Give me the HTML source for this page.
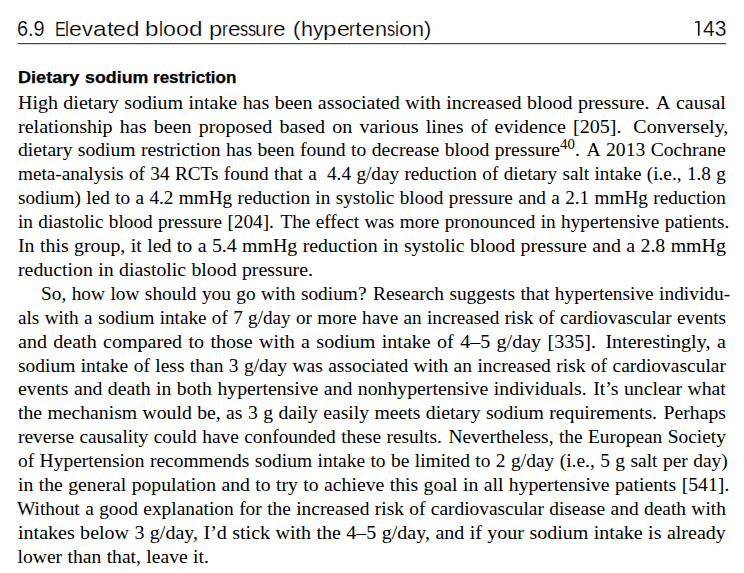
<!DOCTYPE html>
<html lang="en"><head><meta charset="utf-8"><style>
html,body{margin:0;padding:0;background:#fff;}
body{width:744px;height:573px;position:relative;overflow:hidden;font-family:"Liberation Serif",serif;color:#000;}
.l{position:absolute;transform-origin:0 0;height:24px;line-height:24px;white-space:nowrap;}
.l i{display:inline-block;}
.l sup{font-size:76%;line-height:0;vertical-align:baseline;position:relative;top:-0.45em;}
.hd{position:absolute;font-family:"Liberation Sans",sans-serif;white-space:nowrap;}
</style></head><body>

<div class="hd" style="left:17.15px;top:17.30px;font-size:21.5px;line-height:normal;font-weight:normal;transform-origin:0 0;transform:scaleX(0.9268);-webkit-text-stroke:0.2px #fff;">6.9</div>
<div><span class="hd" style="left:54.66px;top:18.30px;font-size:20.3px;line-height:normal;transform-origin:0 0;transform:scaleX(0.8000);-webkit-text-stroke:0.2px #fff;">E</span><span class="hd" style="left:65.38px;top:18.30px;font-size:20.3px;line-height:normal;transform-origin:0 0;transform:scaleX(0.8781);-webkit-text-stroke:0.2px #fff;">l</span><span class="hd" style="left:69.35px;top:18.30px;font-size:20.3px;line-height:normal;transform-origin:0 0;transform:scaleX(1.1423);-webkit-text-stroke:0.2px #fff;">e</span><span class="hd" style="left:82.23px;top:18.30px;font-size:20.3px;line-height:normal;transform-origin:0 0;transform:scaleX(1.0831);-webkit-text-stroke:0.2px #fff;">v</span><span class="hd" style="left:93.22px;top:18.30px;font-size:20.3px;line-height:normal;transform-origin:0 0;transform:scaleX(1.2003);-webkit-text-stroke:0.2px #fff;">a</span><span class="hd" style="left:106.76px;top:18.30px;font-size:20.3px;line-height:normal;transform-origin:0 0;transform:scaleX(1.1915);-webkit-text-stroke:0.2px #fff;">t</span><span class="hd" style="left:113.48px;top:18.30px;font-size:20.3px;line-height:normal;transform-origin:0 0;transform:scaleX(1.1423);-webkit-text-stroke:0.2px #fff;">e</span><span class="hd" style="left:126.36px;top:18.30px;font-size:20.3px;line-height:normal;transform-origin:0 0;transform:scaleX(1.2038);-webkit-text-stroke:0.2px #fff;">d</span></div>
<div><span class="hd" style="left:145.26px;top:18.30px;font-size:20.3px;line-height:normal;transform-origin:0 0;transform:scaleX(1.1931);-webkit-text-stroke:0.2px #fff;">b</span><span class="hd" style="left:158.71px;top:18.30px;font-size:20.3px;line-height:normal;transform-origin:0 0;transform:scaleX(0.8741);-webkit-text-stroke:0.2px #fff;">l</span><span class="hd" style="left:162.66px;top:18.30px;font-size:20.3px;line-height:normal;transform-origin:0 0;transform:scaleX(1.1458);-webkit-text-stroke:0.2px #fff;">o</span><span class="hd" style="left:175.59px;top:18.30px;font-size:20.3px;line-height:normal;transform-origin:0 0;transform:scaleX(1.1458);-webkit-text-stroke:0.2px #fff;">o</span><span class="hd" style="left:188.51px;top:18.30px;font-size:20.3px;line-height:normal;transform-origin:0 0;transform:scaleX(1.1983);-webkit-text-stroke:0.2px #fff;">d</span></div>
<div><span class="hd" style="left:208.78px;top:18.30px;font-size:20.3px;line-height:normal;transform-origin:0 0;transform:scaleX(1.1698);-webkit-text-stroke:0.2px #fff;">p</span><span class="hd" style="left:221.98px;top:18.30px;font-size:20.3px;line-height:normal;transform-origin:0 0;transform:scaleX(0.8609);-webkit-text-stroke:0.2px #fff;">r</span><span class="hd" style="left:227.80px;top:18.30px;font-size:20.3px;line-height:normal;transform-origin:0 0;transform:scaleX(1.1149);-webkit-text-stroke:0.2px #fff;">e</span><span class="hd" style="left:240.08px;top:18.30px;font-size:20.3px;line-height:normal;transform-origin:0 0;transform:scaleX(0.8000);-webkit-text-stroke:0.2px #fff;">s</span><span class="hd" style="left:247.59px;top:18.30px;font-size:20.3px;line-height:normal;transform-origin:0 0;transform:scaleX(0.8000);-webkit-text-stroke:0.2px #fff;">s</span><span class="hd" style="left:255.40px;top:18.30px;font-size:20.3px;line-height:normal;transform-origin:0 0;transform:scaleX(1.0429);-webkit-text-stroke:0.2px #fff;">u</span><span class="hd" style="left:267.16px;top:18.30px;font-size:20.3px;line-height:normal;transform-origin:0 0;transform:scaleX(0.8609);-webkit-text-stroke:0.2px #fff;">r</span><span class="hd" style="left:272.99px;top:18.30px;font-size:20.3px;line-height:normal;transform-origin:0 0;transform:scaleX(1.1149);-webkit-text-stroke:0.2px #fff;">e</span></div>
<div><span class="hd" style="left:293.23px;top:18.30px;font-size:20.3px;line-height:normal;transform-origin:0 0;transform:scaleX(1.0772);-webkit-text-stroke:0.2px #fff;">(</span><span class="hd" style="left:300.52px;top:18.30px;font-size:20.3px;line-height:normal;transform-origin:0 0;transform:scaleX(1.0680);-webkit-text-stroke:0.2px #fff;">h</span><span class="hd" style="left:312.57px;top:18.30px;font-size:20.3px;line-height:normal;transform-origin:0 0;transform:scaleX(1.0440);-webkit-text-stroke:0.2px #fff;">y</span><span class="hd" style="left:323.15px;top:18.30px;font-size:20.3px;line-height:normal;transform-origin:0 0;transform:scaleX(1.1940);-webkit-text-stroke:0.2px #fff;">p</span><span class="hd" style="left:336.62px;top:18.30px;font-size:20.3px;line-height:normal;transform-origin:0 0;transform:scaleX(1.1380);-webkit-text-stroke:0.2px #fff;">e</span><span class="hd" style="left:349.46px;top:18.30px;font-size:20.3px;line-height:normal;transform-origin:0 0;transform:scaleX(0.8787);-webkit-text-stroke:0.2px #fff;">r</span><span class="hd" style="left:355.41px;top:18.30px;font-size:20.3px;line-height:normal;transform-origin:0 0;transform:scaleX(1.1870);-webkit-text-stroke:0.2px #fff;">t</span><span class="hd" style="left:362.10px;top:18.30px;font-size:20.3px;line-height:normal;transform-origin:0 0;transform:scaleX(1.1380);-webkit-text-stroke:0.2px #fff;">e</span><span class="hd" style="left:374.94px;top:18.30px;font-size:20.3px;line-height:normal;transform-origin:0 0;transform:scaleX(1.0680);-webkit-text-stroke:0.2px #fff;">n</span><span class="hd" style="left:386.76px;top:18.30px;font-size:20.3px;line-height:normal;transform-origin:0 0;transform:scaleX(0.8000);-webkit-text-stroke:0.2px #fff;">s</span><span class="hd" style="left:394.65px;top:18.30px;font-size:20.3px;line-height:normal;transform-origin:0 0;transform:scaleX(0.8748);-webkit-text-stroke:0.2px #fff;">i</span><span class="hd" style="left:398.60px;top:18.30px;font-size:20.3px;line-height:normal;transform-origin:0 0;transform:scaleX(1.1468);-webkit-text-stroke:0.2px #fff;">o</span><span class="hd" style="left:411.54px;top:18.30px;font-size:20.3px;line-height:normal;transform-origin:0 0;transform:scaleX(1.0680);-webkit-text-stroke:0.2px #fff;">n</span><span class="hd" style="left:423.59px;top:18.30px;font-size:20.3px;line-height:normal;transform-origin:0 0;transform:scaleX(1.0772);-webkit-text-stroke:0.2px #fff;">)</span></div>
<div class="hd" style="left:702.51px;top:17.30px;font-size:21.5px;line-height:normal;font-weight:normal;transform-origin:0 0;transform:scaleX(0.9765);-webkit-text-stroke:0.2px #fff;">43</div>
<div class="hd" style="left:17.86px;top:68.30px;font-size:17.0px;line-height:normal;font-weight:bold;transform-origin:0 0;transform:scaleX(1.0657);-webkit-text-stroke:0.25px #000;">Dietary</div>
<div class="hd" style="left:84.93px;top:68.30px;font-size:17.0px;line-height:normal;font-weight:bold;transform-origin:0 0;transform:scaleX(1.0492);-webkit-text-stroke:0.25px #000;">sodium</div>
<div class="hd" style="left:153.13px;top:68.30px;font-size:17.0px;line-height:normal;font-weight:bold;transform-origin:0 0;transform:scaleX(1.0031);-webkit-text-stroke:0.25px #000;">restriction</div>
<svg style="position:absolute;left:690px;top:16px" width="14" height="24" viewBox="690 16 14 24"><path d="M697.9 21.1H699.6V35.8H697.9V22.6L695 23.1V21.7Z" fill="#111"/></svg>
<div style="position:absolute;left:17px;top:43px;width:1px;height:1px;background:#b0b0b0;"></div>
<div style="position:absolute;left:18px;top:43px;width:708px;height:1px;background:#484848;"></div>
<div style="position:absolute;left:18px;top:44px;width:708px;height:1px;background:#d4d4d4;"></div>

<div class="l" style="left:17.50px;top:90.50px;font-size:19.60px;transform:scaleX(1.01939)">High<i style="width:5.310px"> </i>dietary<i style="width:5.310px"> </i>sodium<i style="width:5.310px"> </i>intake<i style="width:5.310px"> </i>has<i style="width:5.310px"> </i>been<i style="width:5.310px"> </i>associated<i style="width:5.310px"> </i>with<i style="width:5.310px"> </i>increased<i style="width:5.310px"> </i>blood<i style="width:5.310px"> </i>pressure.<i style="width:6.512px"> </i>A<i style="width:5.310px"> </i>causal</div>
<div class="l" style="left:17.50px;top:114.50px;font-size:19.60px;transform:scaleX(1.02296)">relationship<i style="width:7.028px"> </i>has<i style="width:7.028px"> </i>been<i style="width:7.028px"> </i>proposed<i style="width:7.028px"> </i>based<i style="width:7.028px"> </i>on<i style="width:7.028px"> </i>various<i style="width:7.028px"> </i>lines<i style="width:7.028px"> </i>of<i style="width:7.028px"> </i>evidence<i style="width:7.028px"> </i>[205].<i style="width:11.702px"> </i>Conversely,</div>
<div class="l" style="left:17.50px;top:137.50px;font-size:19.60px;transform:scaleX(1.00102)">dietary<i style="width:5.405px"> </i>sodium<i style="width:5.405px"> </i>restriction<i style="width:5.405px"> </i>has<i style="width:5.405px"> </i>been<i style="width:5.405px"> </i>found<i style="width:5.405px"> </i>to<i style="width:5.405px"> </i>decrease<i style="width:5.405px"> </i>blood<i style="width:5.405px"> </i>pressure<sup>40</sup>.<i style="width:6.603px"> </i>A<i style="width:5.405px"> </i>2013<i style="width:5.405px"> </i>Cochrane</div>
<div class="l" style="left:17.50px;top:161.50px;font-size:19.60px;transform:scaleX(0.98010)">meta-analysis<i style="width:5.506px"> </i>of<i style="width:5.506px"> </i>34<i style="width:5.506px"> </i>RCTs<i style="width:5.506px"> </i>found<i style="width:5.506px"> </i>that<i style="width:5.506px"> </i>a&nbsp;<i style="width:5.506px"> </i>4.4<i style="width:5.506px"> </i>g/day<i style="width:5.506px"> </i>reduction<i style="width:5.506px"> </i>of<i style="width:5.506px"> </i>dietary<i style="width:5.506px"> </i>salt<i style="width:5.506px"> </i>intake<i style="width:5.506px"> </i>(i.e.,<i style="width:5.507px"> </i>1.8<i style="width:5.506px"> </i>g</div>
<div class="l" style="left:17.50px;top:185.50px;font-size:19.60px;transform:scaleX(0.97959)">sodium)<i style="width:5.513px"> </i>led<i style="width:5.513px"> </i>to<i style="width:5.513px"> </i>a<i style="width:5.513px"> </i>4.2<i style="width:5.513px"> </i>mmHg<i style="width:5.513px"> </i>reduction<i style="width:5.513px"> </i>in<i style="width:5.513px"> </i>systolic<i style="width:5.513px"> </i>blood<i style="width:5.513px"> </i>pressure<i style="width:5.513px"> </i>and<i style="width:5.513px"> </i>a<i style="width:5.513px"> </i>2.1<i style="width:5.513px"> </i>mmHg<i style="width:5.513px"> </i>reduction</div>
<div class="l" style="left:17.50px;top:209.50px;font-size:19.60px;transform:scaleX(0.98061)">in<i style="width:5.512px"> </i>diastolic<i style="width:5.512px"> </i>blood<i style="width:5.512px"> </i>pressure<i style="width:5.512px"> </i>[204].<i style="width:6.699px"> </i>The<i style="width:5.512px"> </i>effect<i style="width:5.512px"> </i>was<i style="width:5.512px"> </i>more<i style="width:5.512px"> </i>pronounced<i style="width:5.512px"> </i>in<i style="width:5.512px"> </i>hypertensive<i style="width:5.512px"> </i>patients.</div>
<div class="l" style="left:17.50px;top:233.50px;font-size:19.60px;transform:scaleX(1.01327)">In<i style="width:5.338px"> </i>this<i style="width:5.338px"> </i>group,<i style="width:5.340px"> </i>it<i style="width:5.338px"> </i>led<i style="width:5.338px"> </i>to<i style="width:5.338px"> </i>a<i style="width:5.338px"> </i>5.4<i style="width:5.338px"> </i>mmHg<i style="width:5.338px"> </i>reduction<i style="width:5.338px"> </i>in<i style="width:5.338px"> </i>systolic<i style="width:5.338px"> </i>blood<i style="width:5.338px"> </i>pressure<i style="width:5.338px"> </i>and<i style="width:5.338px"> </i>a<i style="width:5.338px"> </i>2.8<i style="width:5.338px"> </i>mmHg</div>
<div class="l" style="left:17.50px;top:257.50px;font-size:19.60px;transform:scaleX(1.01071)">reduction<i style="width:5.343px"> </i>in<i style="width:5.343px"> </i>diastolic<i style="width:5.343px"> </i>blood<i style="width:5.343px"> </i>pressure.</div>
<div class="l" style="left:40.90px;top:281.50px;font-size:19.60px;transform:scaleX(0.98776)">So,<i style="width:5.471px"> </i>how<i style="width:5.470px"> </i>low<i style="width:5.470px"> </i>should<i style="width:5.470px"> </i>you<i style="width:5.470px"> </i>go<i style="width:5.470px"> </i>with<i style="width:5.470px"> </i>sodium?<i style="width:6.653px"> </i>Research<i style="width:5.470px"> </i>suggests<i style="width:5.470px"> </i>that<i style="width:5.470px"> </i>hypertensive<i style="width:5.470px"> </i>individu-</div>
<div class="l" style="left:17.50px;top:305.50px;font-size:19.60px;transform:scaleX(0.97704)">als<i style="width:5.500px"> </i>with<i style="width:5.500px"> </i>a<i style="width:5.500px"> </i>sodium<i style="width:5.500px"> </i>intake<i style="width:5.500px"> </i>of<i style="width:5.500px"> </i>7<i style="width:5.500px"> </i>g/day<i style="width:5.500px"> </i>or<i style="width:5.500px"> </i>more<i style="width:5.500px"> </i>have<i style="width:5.500px"> </i>an<i style="width:5.500px"> </i>increased<i style="width:5.500px"> </i>risk<i style="width:5.500px"> </i>of<i style="width:5.500px"> </i>cardiovascular<i style="width:5.500px"> </i>events</div>
<div class="l" style="left:17.50px;top:329.50px;font-size:19.60px;transform:scaleX(1.02296)">and<i style="width:6.223px"> </i>death<i style="width:6.223px"> </i>compared<i style="width:6.223px"> </i>to<i style="width:6.223px"> </i>those<i style="width:6.223px"> </i>with<i style="width:6.223px"> </i>a<i style="width:6.223px"> </i>sodium<i style="width:6.223px"> </i>intake<i style="width:6.223px"> </i>of<i style="width:6.223px"> </i>4–5<i style="width:6.223px"> </i>g/day<i style="width:6.223px"> </i>[335].<i style="width:9.287px"> </i>Interestingly,<i style="width:6.459px"> </i>a</div>
<div class="l" style="left:17.50px;top:353.50px;font-size:19.60px;transform:scaleX(0.99286)">sodium<i style="width:5.460px"> </i>intake<i style="width:5.460px"> </i>of<i style="width:5.460px"> </i>less<i style="width:5.460px"> </i>than<i style="width:5.460px"> </i>3<i style="width:5.460px"> </i>g/day<i style="width:5.460px"> </i>was<i style="width:5.460px"> </i>associated<i style="width:5.460px"> </i>with<i style="width:5.460px"> </i>an<i style="width:5.460px"> </i>increased<i style="width:5.460px"> </i>risk<i style="width:5.460px"> </i>of<i style="width:5.460px"> </i>cardiovascular</div>
<div class="l" style="left:17.50px;top:376.50px;font-size:19.60px;transform:scaleX(1.00867)">events<i style="width:5.372px"> </i>and<i style="width:5.372px"> </i>death<i style="width:5.372px"> </i>in<i style="width:5.372px"> </i>both<i style="width:5.372px"> </i>hypertensive<i style="width:5.372px"> </i>and<i style="width:5.372px"> </i>nonhypertensive<i style="width:5.372px"> </i>individuals.<i style="width:6.584px"> </i>It’s<i style="width:5.372px"> </i>unclear<i style="width:5.372px"> </i>what</div>
<div class="l" style="left:17.50px;top:400.50px;font-size:19.60px;transform:scaleX(1.00459)">the<i style="width:5.394px"> </i>mechanism<i style="width:5.394px"> </i>would<i style="width:5.394px"> </i>be,<i style="width:5.399px"> </i>as<i style="width:5.394px"> </i>3<i style="width:5.394px"> </i>g<i style="width:5.394px"> </i>daily<i style="width:5.394px"> </i>easily<i style="width:5.394px"> </i>meets<i style="width:5.394px"> </i>dietary<i style="width:5.394px"> </i>sodium<i style="width:5.394px"> </i>requirements.<i style="width:6.608px"> </i>Perhaps</div>
<div class="l" style="left:17.50px;top:424.50px;font-size:19.60px;transform:scaleX(0.98980)">reverse<i style="width:5.465px"> </i>causality<i style="width:5.465px"> </i>could<i style="width:5.465px"> </i>have<i style="width:5.465px"> </i>confounded<i style="width:5.465px"> </i>these<i style="width:5.465px"> </i>results.<i style="width:6.659px"> </i>Nevertheless,<i style="width:5.467px"> </i>the<i style="width:5.465px"> </i>European<i style="width:5.465px"> </i>Society</div>
<div class="l" style="left:17.50px;top:448.50px;font-size:19.60px;transform:scaleX(0.99337)">of<i style="width:5.449px"> </i>Hypertension<i style="width:5.449px"> </i>recommends<i style="width:5.449px"> </i>sodium<i style="width:5.449px"> </i>intake<i style="width:5.449px"> </i>to<i style="width:5.449px"> </i>be<i style="width:5.449px"> </i>limited<i style="width:5.449px"> </i>to<i style="width:5.449px"> </i>2<i style="width:5.449px"> </i>g/day<i style="width:5.449px"> </i>(i.e.,<i style="width:5.452px"> </i>5<i style="width:5.449px"> </i>g<i style="width:5.449px"> </i>salt<i style="width:5.449px"> </i>per<i style="width:5.449px"> </i>day)</div>
<div class="l" style="left:17.50px;top:472.50px;font-size:19.60px;transform:scaleX(1.00612)">in<i style="width:5.384px"> </i>the<i style="width:5.384px"> </i>general<i style="width:5.384px"> </i>population<i style="width:5.384px"> </i>and<i style="width:5.384px"> </i>to<i style="width:5.384px"> </i>try<i style="width:5.384px"> </i>to<i style="width:5.384px"> </i>achieve<i style="width:5.384px"> </i>this<i style="width:5.384px"> </i>goal<i style="width:5.384px"> </i>in<i style="width:5.384px"> </i>all<i style="width:5.384px"> </i>hypertensive<i style="width:5.384px"> </i>patients<i style="width:5.384px"> </i>[541].</div>
<div class="l" style="left:16.58px;top:496.50px;font-size:19.60px;transform:scaleX(0.98929)">Without<i style="width:5.458px"> </i>a<i style="width:5.458px"> </i>good<i style="width:5.458px"> </i>explanation<i style="width:5.458px"> </i>for<i style="width:5.458px"> </i>the<i style="width:5.458px"> </i>increased<i style="width:5.458px"> </i>risk<i style="width:5.458px"> </i>of<i style="width:5.458px"> </i>cardiovascular<i style="width:5.458px"> </i>disease<i style="width:5.458px"> </i>and<i style="width:5.458px"> </i>death<i style="width:5.458px"> </i>with</div>
<div class="l" style="left:17.50px;top:520.50px;font-size:19.60px;transform:scaleX(1.02194)">intakes<i style="width:5.295px"> </i>below<i style="width:5.295px"> </i>3<i style="width:5.295px"> </i>g/day,<i style="width:5.298px"> </i>I’d<i style="width:5.295px"> </i>stick<i style="width:5.295px"> </i>with<i style="width:5.295px"> </i>the<i style="width:5.295px"> </i>4–5<i style="width:5.295px"> </i>g/day,<i style="width:5.298px"> </i>and<i style="width:5.295px"> </i>if<i style="width:5.295px"> </i>your<i style="width:5.295px"> </i>sodium<i style="width:5.295px"> </i>intake<i style="width:5.295px"> </i>is<i style="width:5.295px"> </i>already</div>
<div class="l" style="left:17.50px;top:544.50px;font-size:19.60px;transform:scaleX(1.00000)">lower<i style="width:5.400px"> </i>than<i style="width:5.400px"> </i>that,<i style="width:5.400px"> </i>leave<i style="width:5.400px"> </i>it.</div>
</body></html>
